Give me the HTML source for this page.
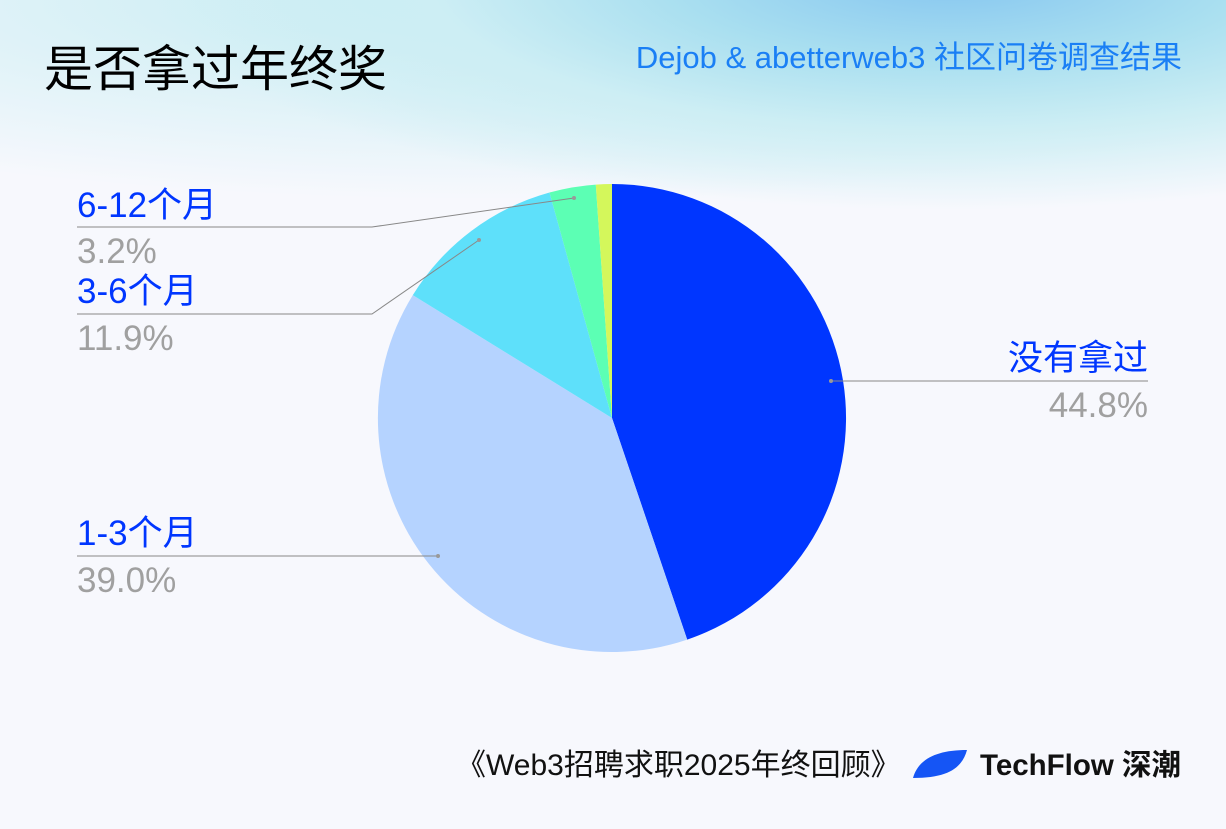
<!DOCTYPE html>
<html><head><meta charset="utf-8"><style>
html,body{margin:0;padding:0}
body{width:1226px;height:829px;overflow:hidden;position:relative;font-family:"Liberation Sans","Noto Sans CJK SC",sans-serif;
background:radial-gradient(ellipse 800px 230px at 950px -20px,#86c6f0 0%,#a9dff0 35%,#cdeef4 65%,rgba(247,248,253,0) 100%),
radial-gradient(ellipse 1000px 200px at 500px 0px,#c4ecf2 0%,rgba(247,248,253,0) 100%),#F7F8FD;}
.t{position:absolute;white-space:nowrap;line-height:1}
.l{font-size:35px;color:#0036FF}
.p{font-size:35px;color:#a0a0a0}
</style></head><body>
<div class="t" style="left:44px;top:46px;font-size:49px;color:#000">是否拿过年终奖</div>
<div class="t" style="right:44px;top:42px;font-size:31px;color:#1a7ff5">Dejob &amp; abetterweb3 社区问卷调查结果</div>
<svg width="1226" height="829" style="position:absolute;left:0;top:0">
<path d="M612,418 L612,184 A234,234 0 0 1 687.2,639.6 Z" fill="#0036FF"/>
<path d="M612,418 L687.2,639.6 A234,234 0 0 1 412.8,295.1 Z" fill="#B5D3FF"/>
<path d="M612,418 L412.8,295.1 A234,234 0 0 1 549.5,192.5 Z" fill="#5EE0FA"/>
<path d="M612,418 L549.5,192.5 A234,234 0 0 1 595.8,184.6 Z" fill="#5CFFB4"/>
<path d="M612,418 L595.8,184.6 A234,234 0 0 1 612,184 Z" fill="#D4F75B"/>
<g stroke="#888" stroke-width="1" fill="none">
<polyline points="831,381 1148,381"/>
<polyline points="438,556 77,556"/>
<polyline points="479,240 372,314 77,314"/>
<polyline points="574,198 372,227 77,227"/>
</g>
<g fill="#999"><circle cx="831" cy="381" r="2"/><circle cx="438" cy="556" r="2"/><circle cx="479" cy="240" r="2"/><circle cx="574" cy="198" r="2"/></g>
<path d="M913,778 C918,760 935,750 967,750 C962,768 948,778 913,778 Z" fill="#1555f5"/>
</svg>
<div class="t l" style="right:78px;top:341px">没有拿过</div>
<div class="t p" style="right:78px;top:388px">44.8%</div>
<div class="t l" style="left:77px;top:516px">1-3个月</div>
<div class="t p" style="left:77px;top:563px">39.0%</div>
<div class="t l" style="left:77px;top:274px">3-6个月</div>
<div class="t p" style="left:77px;top:321px">11.9%</div>
<div class="t l" style="left:77px;top:188px">6-12个月</div>
<div class="t p" style="left:77px;top:234px">3.2%</div>
<div class="t" style="left:456px;top:751px;font-size:30px;color:#111">《Web3招聘求职2025年终回顾》</div>
<div class="t" style="left:980px;top:751px;font-size:29.5px;color:#111;font-weight:bold">TechFlow 深潮</div>
</body></html>
